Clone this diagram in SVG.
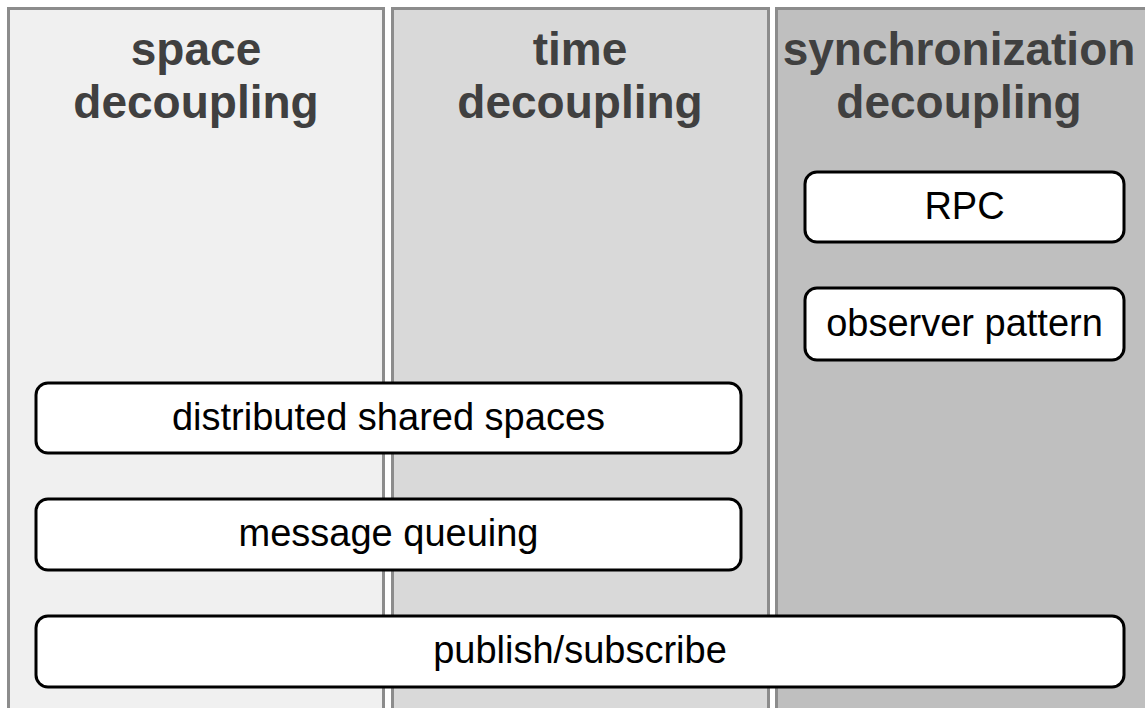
<svg xmlns="http://www.w3.org/2000/svg" width="1145" height="708" viewBox="0 0 1145 708">
  <style>
    .col { stroke: #8c8c8c; stroke-width: 3; }
    .title { font-family: "Liberation Sans", Arial, sans-serif; font-weight: bold; font-size: 46px; fill: #404040; text-anchor: middle; }
    .box { fill: #ffffff; stroke: #000000; stroke-width: 3; }
    .label { font-family: "Liberation Sans", Arial, sans-serif; font-size: 38px; fill: #000000; text-anchor: middle; }
  </style>
  <rect width="1145" height="708" fill="#ffffff"/>

  <!-- columns -->
  <g id="col-space">
    <rect class="col" x="8.5" y="8.5" width="375" height="720" fill="#f0f0f0"/>
    <text class="title" x="196" y="65">space</text>
    <text class="title" x="196" y="118">decoupling</text>
  </g>
  <g id="col-time">
    <rect class="col" x="392.5" y="8.5" width="376" height="720" fill="#d9d9d9"/>
    <text class="title" x="580" y="65">time</text>
    <text class="title" x="580" y="118">decoupling</text>
  </g>
  <g id="col-sync">
    <rect class="col" x="776.5" y="8.5" width="380" height="720" fill="#bfbfbf"/>
    <text class="title" x="959" y="65">synchronization</text>
    <text class="title" x="959" y="118">decoupling</text>
  </g>

  <!-- techniques -->
  <g id="rpc">
    <rect class="box" x="805" y="172" width="319" height="70" rx="12"/>
    <text class="label" x="964.5" y="219">RPC</text>
  </g>
  <g id="observer">
    <rect class="box" x="805" y="288" width="319" height="72" rx="12"/>
    <text class="label" x="964.5" y="336">observer pattern</text>
  </g>
  <g id="dss">
    <rect class="box" x="36" y="383" width="705" height="70" rx="12"/>
    <text class="label" x="388.5" y="430">distributed shared spaces</text>
  </g>
  <g id="mq">
    <rect class="box" x="36" y="499" width="705" height="71" rx="12"/>
    <text class="label" x="388.5" y="546">message queuing</text>
  </g>
  <g id="pubsub">
    <rect class="box" x="36" y="616" width="1088" height="71" rx="12"/>
    <text class="label" x="580" y="663">publish/subscribe</text>
  </g>

  <g id="connectors"/>
</svg>
